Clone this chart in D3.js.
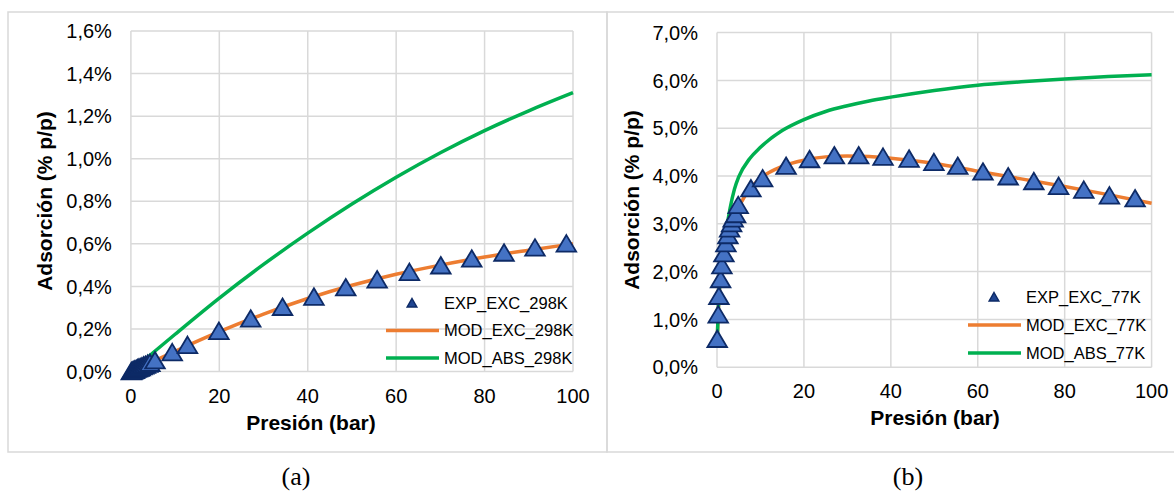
<!DOCTYPE html>
<html><head><meta charset="utf-8">
<script src="https://cdn.jsdelivr.net/npm/d3@7"></script>
<style>
html,body{margin:0;padding:0;background:#fff;}
svg{display:block;}
text{font-family:"Liberation Sans",Arial,sans-serif;fill:#000;}
</style></head>
<body>
<script>
// ---------- DATA ----------
const xTicks = [0, 20, 40, 60, 80, 100];
const yTicksA = [0, 0.2, 0.4, 0.6, 0.8, 1.0, 1.2, 1.4, 1.6];
const yTicksB = [0, 1, 2, 3, 4, 5, 6, 7];

// 298 K
const exp298P = [0.1,0.3,0.5,0.7,0.9,1.2,1.5,1.8,2.1,2.5,2.9,3.3,3.8,4.3,5.45,9.35,12.8,19.9,27.1,34.3,41.4,48.6,55.7,63.0,70.1,77.1,84.4,91.4,98.5];
const exp298A = [0.001,0.003,0.005,0.007,0.009,0.012,0.015,0.017,0.020,0.024,0.028,0.031,0.036,0.040,0.052,0.090,0.124,0.190,0.248,0.303,0.351,0.395,0.432,0.467,0.498,0.530,0.558,0.582,0.601];
const mod298P = [0, 5, 10, 20, 30, 40, 50, 60, 70, 80, 90, 100];
const modExc298 = [0, 0.047, 0.095, 0.187, 0.270, 0.343, 0.405, 0.457, 0.500, 0.538, 0.570, 0.600];
const modAbs298 = [0, 0.088, 0.175, 0.345, 0.503, 0.650, 0.787, 0.913, 1.028, 1.132, 1.225, 1.310];

// 77 K
const exp77P = [0.05,0.28,0.44,0.83,1.13,1.59,2.05,2.51,2.90,3.36,3.73,4.28,4.88,7.8,10.5,15.9,21.3,27.0,32.6,38.2,44.2,49.9,55.4,61.2,67.0,72.9,78.6,84.4,90.3,96.2];
const exp77A = [0.59,1.10,1.49,1.84,2.13,2.38,2.59,2.76,2.90,3.01,3.11,3.20,3.39,3.74,3.95,4.21,4.35,4.43,4.43,4.40,4.36,4.29,4.21,4.09,3.99,3.89,3.79,3.71,3.59,3.53];
const mod77P = [0.02, 0.2, 0.5, 1, 2, 3, 4, 5, 7.5, 10, 15, 20, 25, 30, 35, 40, 50, 60, 70, 80, 90, 100];
const modExc77 = [0.45, 0.95, 1.52, 2.0, 2.6, 2.95, 3.18, 3.36, 3.72, 3.95, 4.20, 4.33, 4.40, 4.42, 4.41, 4.37, 4.26, 4.10, 3.94, 3.78, 3.61, 3.43];
const modAbs77 = [0.45, 0.97, 1.58, 2.1, 2.78, 3.32, 3.72, 3.98, 4.36, 4.60, 4.95, 5.18, 5.35, 5.47, 5.57, 5.65, 5.79, 5.90, 5.97, 6.03, 6.08, 6.12];

const legendA = ["EXP_EXC_298K", "MOD_EXC_298K", "MOD_ABS_298K"];
const legendB = ["EXP_EXC_77K", "MOD_EXC_77K", "MOD_ABS_77K"];
const captions = ["(a)", "(b)"];
const xTitle = "Presión (bar)";
const yTitle = "Adsorción (% p/p)";

// ---------- STYLE ----------
const C_GRID = "#d9d9d9", C_ORANGE = "#ED7D31", C_GREEN = "#00B050",
      C_FILL = "#4472C4", C_EDGE = "#0d2a66";

const svg = d3.select("body").append("svg").attr("width", 1174).attr("height", 493);

// panel borders
svg.append("rect").attr("x", 8).attr("y", 12).attr("width", 599).attr("height", 440)
  .attr("fill", "none").attr("stroke", C_GRID).attr("stroke-width", 1.5);
svg.append("rect").attr("x", 607).attr("y", 12).attr("width", 600).attr("height", 440)
  .attr("fill", "none").attr("stroke", C_GRID).attr("stroke-width", 1.5);

const fmt = d => d3.format(".1f")(d).replace(".", ",") + "%";
const tri = "M0,-8.5L9.8,8L-9.8,8Z";
const triSmall = "M0,-4.5L4.8,4L-4.8,4Z";

function panel(cfg) {
  const x = d3.scaleLinear().domain([0, 100]).range(cfg.xr);
  const y = d3.scaleLinear().domain([0, cfg.ymax]).range(cfg.yr);
  const g = svg.append("g");

  // gridlines
  g.selectAll(".hg").data(cfg.yTicks).enter().append("line")
    .attr("x1", x(0)).attr("x2", x(100)).attr("y1", d => y(d)).attr("y2", d => y(d))
    .attr("stroke", C_GRID).attr("stroke-width", 1.5);
  g.selectAll(".vg").data(xTicks).enter().append("line")
    .attr("y1", y(0)).attr("y2", y(cfg.ymax)).attr("x1", d => x(d)).attr("x2", d => x(d))
    .attr("stroke", C_GRID).attr("stroke-width", 1.5);

  // tick labels
  g.selectAll(".yl").data(cfg.yTicks).enter().append("text")
    .attr("x", x(0) - cfg.ylPad).attr("y", d => y(d)).attr("dy", "0.36em")
    .attr("text-anchor", "end").style("font-size", "20px").text(fmt);
  g.selectAll(".xl").data(xTicks).enter().append("text")
    .attr("x", d => x(d)).attr("y", y(0) + 31)
    .attr("text-anchor", "middle").style("font-size", "20px").text(d => d);

  // titles
  g.append("text").attr("x", cfg.xtX).attr("y", y(0) + 58).attr("text-anchor", "middle")
    .style("font-size", "21px").style("font-weight", "bold").text(xTitle);
  g.append("text").attr("transform", `translate(${cfg.ytX},${cfg.ytY}) rotate(-90)`)
    .attr("text-anchor", "middle").attr("dy", "0.36em")
    .style("font-size", "21px").style("font-weight", "bold").text(yTitle);

  const line = d3.line().x(d => x(d[0])).y(d => y(d[1])).curve(cfg.curve);
  g.append("path").datum(cfg.modP.map((p, i) => [p, cfg.exc[i]]))
    .attr("d", line).attr("fill", "none").attr("stroke", C_ORANGE).attr("stroke-width", 3.5);
  g.append("path").datum(cfg.modP.map((p, i) => [p, cfg.abs[i]]))
    .attr("d", line).attr("fill", "none").attr("stroke", C_GREEN).attr("stroke-width", 3.5);

  // experimental points
  g.selectAll(".pt").data(cfg.expP.map((p, i) => [p, cfg.expA[i]])).enter().append("path")
    .attr("d", tri).attr("transform", d => `translate(${x(d[0])},${y(d[1])})`)
    .attr("fill", C_FILL).attr("stroke", C_EDGE).attr("stroke-width", 1.8)
    .attr("stroke-linejoin", "miter");

  // legend
  const L = cfg.leg;
  g.append("path").attr("d", triSmall).attr("transform", `translate(${L.mx},${L.y0})`)
    .attr("fill", "#1f4591").attr("stroke", C_EDGE).attr("stroke-width", 1.5);
  [C_ORANGE, C_GREEN].forEach((c, i) => {
    g.append("line").attr("x1", L.lx1).attr("x2", L.lx2)
      .attr("y1", L.y0 + L.dy * (i + 1)).attr("y2", L.y0 + L.dy * (i + 1))
      .attr("stroke", c).attr("stroke-width", 3.5);
  });
  cfg.legend.forEach((t, i) => {
    g.append("text").attr("x", L.tx).attr("y", L.y0 + L.dy * i).attr("dy", "0.36em")
      .style("font-size", "16.5px").text(t);
  });

  svg.append("text").attr("x", cfg.capX).attr("y", 485).attr("text-anchor", "middle")
    .style("font-family", "'Liberation Serif','Times New Roman',serif").style("font-size", "26px")
    .text(cfg.cap);
}

panel({
  xr: [130.9, 573], yr: [371.5, 31], ymax: 1.6, yTicks: yTicksA, ylPad: 19,
  xtX: 311, ytX: 44, ytY: 201, curve: d3.curveMonotoneX,
  expP: exp298P, expA: exp298A, modP: mod298P, exc: modExc298, abs: modAbs298,
  legend: legendA, leg: { mx: 412, lx1: 386, lx2: 439, tx: 444, y0: 303, dy: 27.5 },
  cap: captions[0], capX: 296
});
panel({
  xr: [717, 1151.6], yr: [367.2, 32.6], ymax: 7, yTicks: yTicksB, ylPad: 19,
  xtX: 935, ytX: 631, ytY: 200, curve: d3.curveMonotoneX,
  expP: exp77P, expA: exp77A, modP: mod77P, exc: modExc77, abs: modAbs77,
  legend: legendB, leg: { mx: 994, lx1: 968, lx2: 1021, tx: 1026, y0: 297, dy: 28 },
  cap: captions[1], capX: 908
});
</script>
</body></html>
